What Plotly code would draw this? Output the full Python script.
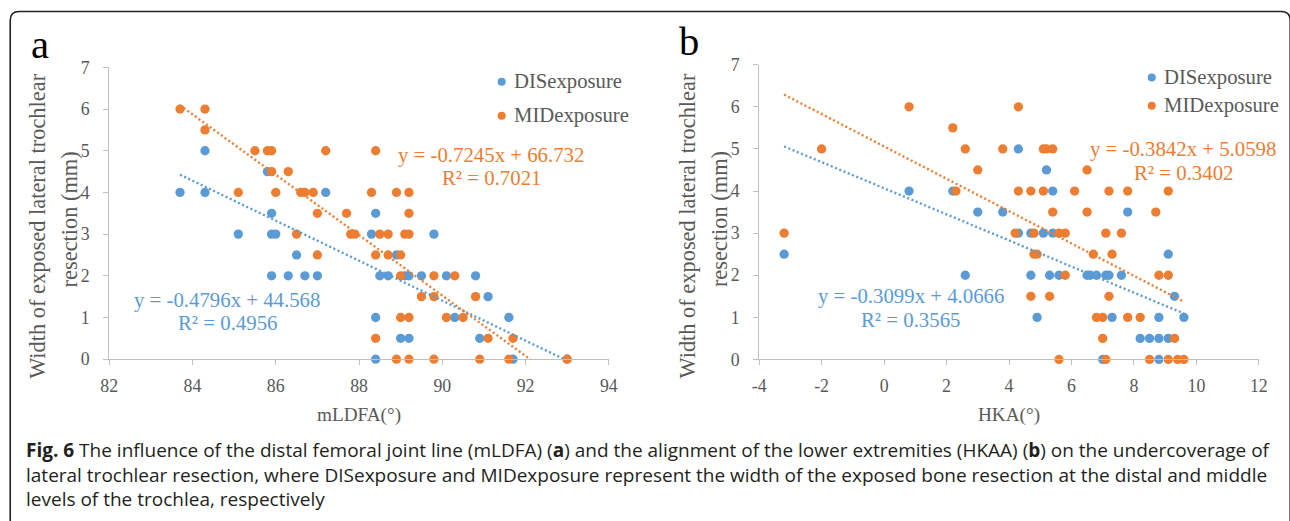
import plotly.graph_objects as go

# ---------------- data ----------------
# Panel a: mLDFA (x) vs width of exposed lateral trochlear resection (y)
a_dis_x = [83.7, 84.3, 84.3, 85.8, 85.9, 85.1, 85.9, 86.0, 86.5, 85.9, 86.3, 86.7, 87.0, 87.2,
           88.4, 88.3, 89.8, 88.9, 88.5, 88.7, 89.1, 89.2, 89.5, 90.1, 90.8, 91.1, 88.4, 90.3,
           91.6, 89.0, 89.2, 90.9, 88.4, 91.7, 93.0]
a_dis_y = [4, 5, 4, 4.5, 3.5, 3, 3, 3, 2.5, 2, 2, 2, 2, 4,
           3.5, 3, 3, 2.5, 2, 2, 2, 2, 2, 2, 2, 1.5, 1, 1,
           1, 0.5, 0.5, 0.5, 0, 0, 0]
a_mid_x = [83.7, 84.3, 84.3, 85.5, 85.8, 85.9, 87.2, 85.9, 86.3, 85.1, 86.0, 86.6, 86.7, 86.9,
           87.0, 87.7, 87.8, 87.9, 86.5, 87.0, 88.4, 88.3, 88.9, 89.2, 89.2, 88.5, 88.7, 89.1,
           89.2, 88.4, 88.7, 89.0, 89.0, 89.8, 90.3, 89.5, 89.8, 90.8, 89.0, 89.2, 90.1, 90.5,
           88.4, 91.1, 91.7, 88.9, 89.2, 89.8, 90.9, 91.6, 93.0]
a_mid_y = [6, 6, 5.5, 5, 5, 5, 5, 4.5, 4.5, 4, 4, 4, 4, 4,
           3.5, 3.5, 3, 3, 3, 2.5, 5, 4, 4, 4, 3.5, 3, 3, 3,
           3, 2.5, 2.5, 2.5, 2, 2, 2, 1.5, 1.5, 1.5, 1, 1, 1, 1,
           0.5, 0.5, 0.5, 0, 0, 0, 0, 0, 0]

# Panel b: HKA (x) vs width
b_dis_x = [-3.2, 0.8, 2.2, 3.0, 3.8, 2.6, 4.3, 5.2, 5.4, 7.8, 4.3, 4.7, 5.1, 5.4, 9.1,
           4.7, 5.3, 5.6, 6.5, 6.6, 6.8, 7.1, 7.2, 7.6, 9.3, 4.9, 7.3, 8.8, 9.6,
           8.2, 8.5, 8.8, 9.1, 7.0, 8.8]
b_dis_y = [2.5, 4, 4, 3.5, 3.5, 2, 5, 4.5, 4, 3.5, 3, 3, 3, 3, 2.5,
           2, 2, 2, 2, 2, 2, 2, 2, 2, 1.5, 1, 1, 1, 1,
           0.5, 0.5, 0.5, 0.5, 0, 0]
b_mid_x = [-3.2, -2.0, 0.8, 2.2, 2.6, 3.8, 3.0, 2.3, 4.3, 5.1, 5.2, 5.4, 6.5, 4.3, 4.7, 5.1,
           6.1, 7.2, 7.8, 9.1, 5.4, 6.5, 8.7, 4.2, 4.8, 5.6, 5.8, 7.1, 7.6, 4.8, 4.9, 6.7,
           7.3, 5.8, 8.8, 9.1, 4.7, 5.3, 7.2, 6.8, 7.0, 7.8, 8.2, 7.0, 9.3, 5.6, 7.1, 8.5,
           9.1, 9.4, 9.6]
b_mid_y = [3, 5, 6, 5.5, 5, 5, 4.5, 4, 6, 5, 5, 5, 4.5, 4, 4, 4,
           4, 4, 4, 4, 3.5, 3.5, 3.5, 3, 3, 3, 3, 3, 3, 2.5, 2.5, 2.5,
           2.5, 2, 2, 2, 1.5, 1.5, 1.5, 1, 1, 1, 1, 0.5, 0.5, 0, 0, 0,
           0, 0, 0]

# Linear trendline coefficients (slope, intercept) and R² as printed on the chart
a_dis_fit = (-0.4796, 44.568, 0.4956)
a_mid_fit = (-0.7245, 66.732, 0.7021)
b_dis_fit = (-0.3099, 4.0666, 0.3565)
b_mid_fit = (-0.3842, 5.0598, 0.3402)

series_names = ["DISexposure", "MIDexposure"]
x_ticks_a = [82, 84, 86, 88, 90, 92, 94]
x_ticks_b = [-4, -2, 0, 2, 4, 6, 8, 10, 12]
y_ticks = [0, 1, 2, 3, 4, 5, 6, 7]

# ---------------- style ----------------
W, H = 1290, 521
SX, SY, OFF = 0.985, 0.964, 9.3   # how the photographed page maps figure pixels to picture pixels
BLUE = "#5B9BD5"
ORANGE = "#ED7D31"
GRAY = "#595959"
AXIS = "#BFBFBF"
SERIF = "Liberation Serif, Times New Roman, serif"
SANS = "Open Sans, sans-serif"


def px(t):
    """target picture x (px) -> paper fraction"""
    return (t / SX - OFF) / W


def py(t):
    """target picture y (px from top) -> paper fraction"""
    return 1 - (t / SY - OFF) / H


fig = go.Figure()


def add_panel(xs_d, ys_d, xs_m, ys_m, fit_d, fit_m, xa, ya):
    for xs, ys, col, name in [(xs_d, ys_d, BLUE, series_names[0]),
                              (xs_m, ys_m, ORANGE, series_names[1])]:
        fig.add_trace(go.Scatter(x=xs, y=ys, mode="markers", name=name,
                                 marker=dict(color=col, size=9.3, line=dict(width=0)),
                                 cliponaxis=False, showlegend=False,
                                 xaxis=xa, yaxis=ya))
    for xs, fit, col in [(xs_d, fit_d, BLUE), (xs_m, fit_m, ORANGE)]:
        x0, x1 = min(xs), max(xs)
        fig.add_trace(go.Scatter(x=[x0, x1], y=[fit[0] * x0 + fit[1], fit[0] * x1 + fit[1]],
                                 mode="lines", line=dict(color=col, width=2.4, dash="2px,2.6px"),
                                 showlegend=False, hoverinfo="skip",
                                 xaxis=xa, yaxis=ya))


add_panel(a_dis_x, a_dis_y, a_mid_x, a_mid_y, a_dis_fit, a_mid_fit, "x", "y")
add_panel(b_dis_x, b_dis_y, b_mid_x, b_mid_y, b_dis_fit, b_mid_fit, "x2", "y2")

axis_common = dict(showline=True, linecolor=AXIS, linewidth=1, ticks="outside", ticklen=5,
                   tickcolor=AXIS, tickwidth=1, showgrid=False, zeroline=False,
                   tickfont=dict(family=SERIF, size=17.8, color=GRAY), fixedrange=True)

fig.update_layout(
    width=W, height=H, margin=dict(l=0, r=0, t=0, b=0),
    paper_bgcolor="white", plot_bgcolor="white", showlegend=False,
    xaxis=dict(domain=[px(109.3), px(608.3)], range=[82, 94], tickvals=x_ticks_a,
               ticktext=[str(v) for v in x_ticks_a],
               anchor="y", ticklabelstandoff=5, **axis_common),
    yaxis=dict(domain=[py(359), py(66.5)], range=[0, 7], tickvals=y_ticks,
               ticktext=[str(v) for v in y_ticks],
               anchor="x", ticklabelstandoff=10, **axis_common),
    xaxis2=dict(domain=[px(758.5), px(1257.7)], range=[-4, 12], tickvals=x_ticks_b,
                ticktext=[str(v) for v in x_ticks_b],
                anchor="y2", ticklabelstandoff=5, **axis_common),
    yaxis2=dict(domain=[py(359.3), py(63.8)], range=[0, 7], tickvals=y_ticks,
                ticktext=[str(v) for v in y_ticks],
                anchor="x2", ticklabelstandoff=10, **axis_common),
)

ann = []


def text(x, y, s, size, color, family=SERIF, xanchor="center", angle=0, align="center"):
    ann.append(dict(x=px(x), y=py(y), xref="paper", yref="paper", text=s, showarrow=False,
                    xanchor=xanchor, yanchor="middle", textangle=angle, align=align,
                    font=dict(family=family, size=size, color=color)))


# panel letters
text(40, 44, "a", 40.6, "black")
text(688, 41, "b", 40.6, "black")

# axis titles
for off in (0, 649):
    text(38 + off, 225.5, "Width of exposed lateral trochlear", 22.4, GRAY, angle=-90)
    text(70 + off, 219, "resection (mm)", 22.4, GRAY, angle=-90)
text(358.8, 415, "mLDFA(°)", 19.2, GRAY)
text(1008, 415, "HKA(°)", 19.2, GRAY)

# legends (manual)
shapes = []


def dot(x, y, col, r=4):
    shapes.append(dict(type="circle", xref="paper", yref="paper", xsizemode="pixel",
                       ysizemode="pixel", xanchor=px(x), yanchor=py(y), x0=-r, x1=r,
                       y0=-r, y1=r, fillcolor=col, line=dict(width=0)))


for (lx, ly1, ly2) in [(501.3, 81, 115), (1150.7, 76.7, 105)]:
    dot(lx, ly1, BLUE)
    dot(lx, ly2, ORANGE)
    text(lx + 10, ly1, series_names[0], 20.7, GRAY, xanchor="left")
    text(lx + 10, ly2, series_names[1], 20.7, GRAY, xanchor="left")


def eq(fit):
    s, b, r2 = fit
    sign = "+" if b >= 0 else "-"
    return f"y = {s:.4f}x {sign} {abs(b):g}", f"R² = {r2:.4f}"


for fit, col, cx, y1, y2 in [(a_dis_fit, BLUE, 227, 300, 322.7),
                             (a_mid_fit, ORANGE, 491, 154, 176.7),
                             (b_dis_fit, BLUE, 910, 295.7, 319.3),
                             (b_mid_fit, ORANGE, 1182, 148.3, 172.3)]:
    l1, l2 = eq(fit)
    text(cx, y1, l1, 20.8, col)
    text(cx, y2, l2, 20.8, col)

# caption (one block, three lines)
cap = [
    "<b>Fig. 6</b> The influence of the distal femoral joint line (mLDFA) (<b>a</b>) and the alignment of the lower extremities (HKAA) (<b>b</b>) on the undercoverage of",
    "lateral trochlear resection, where DISexposure and MIDexposure represent the width of the exposed bone resection at the distal and middle",
    "levels of the trochlea, respectively",
]
text(24.5, 475, "<br>".join(cap), 19.0, "#231F20", family=SANS, xanchor="left", align="left")

# border (rounded frame)
r = 9
bx0, by0, bx1, by1 = 10.4, 10.5, 1289, 540
path = (f"M {px(bx0)},{py(by1)} "
        f"L {px(bx0)},{py(by0 + r)} "
        f"Q {px(bx0)},{py(by0)} {px(bx0 + r)},{py(by0)} "
        f"L {px(bx1 - r)},{py(by0)} Q {px(bx1)},{py(by0)} {px(bx1)},{py(by0 + r)} "
        f"L {px(bx1)},{py(by1)}")
shapes.append(dict(type="path", xref="paper", yref="paper", path=path,
                   line=dict(color="#222222", width=1.6)))

fig.update_layout(annotations=ann, shapes=shapes)

post = (
    "document.documentElement.style.margin='0';"
    "document.documentElement.style.padding='0';"
    "document.documentElement.style.overflow='hidden';"
    "document.body.style.margin='0';"
    "document.body.style.padding='0';"
    "document.body.style.overflow='hidden';"
    "var gd=document.getElementById('{plot_id}');"
    "gd.style.position='fixed';gd.style.left='0px';gd.style.top='0px';"
    "window.scrollTo(0,0);"
)
fig.write_html("out.html", config={"displayModeBar": False}, post_script=post)
